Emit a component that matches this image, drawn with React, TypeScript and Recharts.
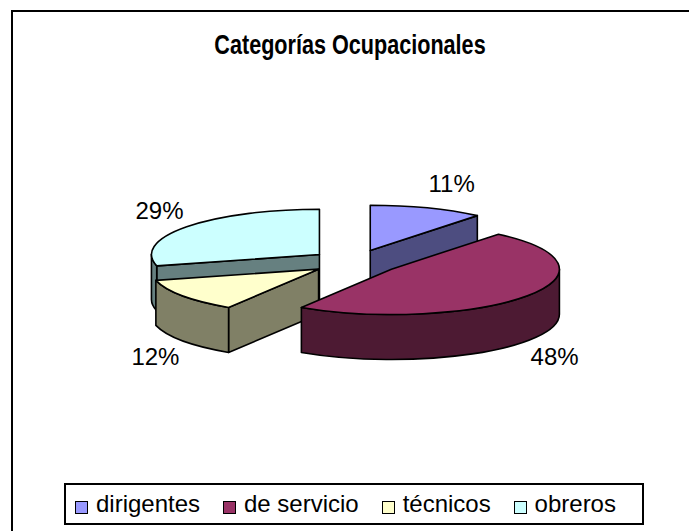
import { PieChart, Pie, Cell, Legend } from "recharts";

// Datos del gráfico
const categories = ["dirigentes", "de servicio", "técnicos", "obreros"];
const shares = [11, 48, 12, 29];

// Colores de la cara superior y de los lados (3D)
const TOP_COLORS: { [key: string]: string } = {
  dirigentes: "#9999FF",
  "de servicio": "#993366",
  "técnicos": "#FFFFCC",
  obreros: "#CCFFFF",
};
const SIDE_COLORS: { [key: string]: string } = {
  dirigentes: "#4D4D80",
  "de servicio": "#4D1A33",
  "técnicos": "#808066",
  obreros: "#668080",
};

// orden de dibujo: de atrás hacia adelante
const DRAW_ORDER = ["obreros", "dirigentes", "técnicos", "de servicio"];

const data = categories.map((name, i) => ({ name, value: shares[i] }));

const TILT = 0.27; // ry / rx
const DEPTH = 45;
const EXPLODE = 45;
const RAD = Math.PI / 180;
const FONT = "'Liberation Sans', Arial, sans-serif";

// sector elíptico con paredes, separado del centro
function sliceShape(only: string) {
  return (props: any) => {
    if (props.name !== only) return <g />;
    const { cx, cy, outerRadius: r, startAngle, endAngle, midAngle } = props;
    const a1 = Math.max(startAngle, endAngle);
    const a0 = Math.min(startAngle, endAngle);
    const ry = r * TILT;
    const ox = cx + EXPLODE * Math.cos(midAngle * RAD);
    const oy = cy - EXPLODE * TILT * Math.sin(midAngle * RAD);
    const pt = (a: number, dy = 0) =>
      `${ox + r * Math.cos(a * RAD)},${oy - ry * Math.sin(a * RAD) + dy}`;
    const side = SIDE_COLORS[only];
    const parts: any[] = [];

    // caras de corte (radiales)
    const face = (a: number) =>
      `M${ox},${oy} L${pt(a)} L${pt(a, DEPTH)} L${ox},${oy + DEPTH} Z`;
    if (Math.cos(a1 * RAD) < -1e-6) parts.push(face(a1));
    if (Math.cos(a0 * RAD) > 1e-6) parts.push(face(a0));

    // pared exterior visible (mitad inferior)
    for (const k of [-1, 0, 1]) {
      const b0 = Math.max(a0, -180 + 360 * k);
      const b1 = Math.min(a1, 360 * k);
      if (b1 > b0) {
        parts.push(
          `M${pt(b1)} A${r},${ry} 0 0 1 ${pt(b0)} L${pt(b0, DEPTH)} A${r},${ry} 0 0 0 ${pt(b1, DEPTH)} Z`
        );
      }
    }

    const large = a1 - a0 > 180 ? 1 : 0;
    const top = `M${ox},${oy} L${pt(a1)} A${r},${ry} 0 ${large} 1 ${pt(a0)} Z`;

    return (
      <g>
        {parts.map((d, i) => (
          <path key={i} d={d} fill={side} stroke="#000" strokeWidth={1.6} strokeLinejoin="round" />
        ))}
        <path d={top} fill={props.fill} stroke="#000" strokeWidth={1.6} strokeLinejoin="round" />
      </g>
    );
  };
}

const renderLabel = (props: any) => {
  const { cx, cy, midAngle, outerRadius: r, percent } = props;
  const c = Math.cos(midAngle * RAD);
  const s = Math.sin(midAngle * RAD);
  const ox = cx + EXPLODE * c;
  const oy = cy - EXPLODE * TILT * s;
  const x = ox + (r + 4) * c;
  const y = oy - (r * TILT + 26) * s + (s < 0 ? DEPTH : 0);
  return (
    <text
      x={x}
      y={y}
      textAnchor={c >= 0 ? "start" : "end"}
      dominantBaseline="central"
      fontFamily={FONT}
      fontSize={24}
      fill="#000"
    >
      {`${Math.round(percent * 100)}%`}
    </text>
  );
};

const renderLegend = (props: any) => {
  const seen: { [key: string]: boolean } = {};
  const items = (props.payload || [])
    .filter((p: any) => {
      if (p.type === "none" || seen[p.value]) return false;
      seen[p.value] = true;
      return true;
    })
    .sort((a: any, b: any) => categories.indexOf(a.value) - categories.indexOf(b.value));
  return (
    <div
      style={{
        boxSizing: "border-box",
        width: "100%",
        height: "100%",
        border: "2px solid #000",
        display: "flex",
        alignItems: "center",
        justifyContent: "space-between",
        padding: "0 26px 0 9px",
        fontFamily: FONT,
        fontSize: 24,
        background: "#fff",
      }}
    >
      {items.map((p: any) => (
        <span key={p.value} style={{ display: "flex", alignItems: "center", whiteSpace: "nowrap" }}>
          <span
            style={{
              display: "inline-block",
              boxSizing: "border-box",
              width: 13,
              height: 13,
              border: "1.5px solid #000",
              background: p.color,
              marginRight: 8,
              marginTop: 7,
            }}
          />
          {p.value}
        </span>
      ))}
    </div>
  );
};

export default function App() {
  return (
    <div
      style={{
        position: "absolute",
        left: 0,
        top: 0,
        width: 689,
        height: 531,
        overflow: "hidden",
        background: "#fff",
      }}
    >
      <div
        style={{
          position: "absolute",
          left: 11,
          top: 10,
          width: 760,
          height: 600,
          border: "2px solid #000",
        }}
      />
      <div
        style={{
          position: "absolute",
          left: 0,
          top: 30,
          width: 700,
          textAlign: "center",
          fontFamily: FONT,
          fontWeight: "bold",
          fontSize: 27,
          transform: "scaleX(0.8)",
          transformOrigin: "350px 0",
        }}
      >
        Categorías Ocupacionales
      </div>
      <div style={{ position: "absolute", left: 0, top: 0 }}>
        <PieChart width={689} height={531} margin={{ top: 0, right: 0, bottom: 0, left: 0 }}>
          {DRAW_ORDER.map((only, idx) => {
            const last = idx === DRAW_ORDER.length - 1;
            const shape = sliceShape(only);
            return (
              <Pie
                key={only}
                data={data}
                dataKey="value"
                nameKey="name"
                cx={355}
                cy={262}
                outerRadius={168}
                startAngle={90}
                endAngle={-270}
                shape={shape}
                inactiveShape={shape}
                activeShape={shape}
                label={last ? renderLabel : false}
                labelLine={false}
                legendType={last ? "square" : "none"}
                isAnimationActive={false}
              >
                {data.map((entry) => (
                  <Cell key={entry.name} fill={TOP_COLORS[entry.name]} />
                ))}
              </Pie>
            );
          })}
          <Legend
            content={renderLegend}
            wrapperStyle={{ left: 64, top: 483, width: 580, height: 42, bottom: "auto" }}
          />
        </PieChart>
      </div>
    </div>
  );
}
